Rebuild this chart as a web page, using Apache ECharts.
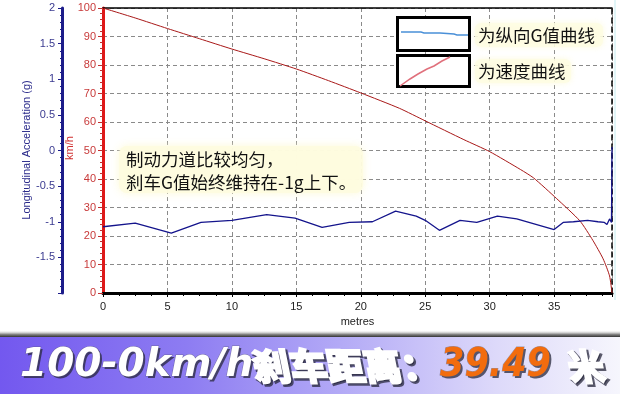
<!DOCTYPE html>
<html><head><meta charset="utf-8">
<script src="https://cdn.jsdelivr.net/npm/echarts@6/dist/echarts.min.js"></script>
<style>html,body{margin:0;padding:0;background:#fff}#c{width:620px;height:394px}</style>
</head><body><div id="c"></div>
<script>
// ---- data ----
const distanceTickLabels = ['0','5','10','15','20','25','30','35'];
const speedTickLabels = ['0','10','20','30','40','50','60','70','80','90','100'];
const gTickLabels = ['2','1.5','1','0.5','0','-0.5','-1','-1.5'];

const speedDist = [0, 2.5, 5, 7.5, 10, 12.5, 15, 17.5, 20, 23, 25, 28, 30, 32.4, 33.4, 35.2, 37, 38, 38.8, 39.3, 39.49];
const speedVals = [100, 96.5, 92.8, 89.2, 85.6, 82.2, 78.6, 74.5, 70.2, 64.8, 60.4, 53.8, 49.6, 43.3, 40.4, 33.1, 25.3, 18.5, 12, 6, 0];

const gDist = [0, 2.5, 5.3, 7.6, 10, 12.7, 14.9, 17, 19.1, 20.9, 22.7, 24.3, 25, 26.1, 27.7, 29, 30.6, 32.1, 35, 35.7, 36.5, 37.6, 38.4, 38.9, 39.1, 39.3, 39.45, 39.49];
const gVals = [-1.07, -1.02, -1.16, -1.01, -0.98, -0.90, -0.95, -1.08, -1.01, -1.0, -0.85, -0.92, -0.98, -1.12, -0.98, -1.01, -0.92, -0.96, -1.11, -1.01, -1.0, -0.98, -1.0, -1.01, -1.04, -0.96, -1.01, 0.05];

const totalDistance = 39.49;
const legendTexts = ['为纵向G值曲线', '为速度曲线'];
const noteText = ['制动力道比较均匀，', '刹车G值始终维持在-1g上下。'];
const bannerParts = ['100-0km/h', '刹车距离：', '39.49', '米'];

// ---- chart ----
const chart = echarts.init(document.getElementById('c'), null, {renderer: 'canvas'});
const gridDash = {color: '#8a8a8a', width: 1, type: [4, 3]};

function bannerText(x, text, font, fill, scaleX, skew, heavy) {
  const base = {type: 'text', y: 366, scaleX: scaleX || 1, skewX: skew || 0};
  const w = heavy || 0;
  return [
    Object.assign({}, base, {x: x + 2, y: 368, z: 31,
      style: {text: text, fill: 'rgba(40,40,60,0.75)', stroke: w ? 'rgba(40,40,60,0.75)' : null, lineWidth: w + 1, font: font, verticalAlign: 'middle'}}),
    Object.assign({}, base, {x: x, z: 32,
      style: {text: text, fill: fill, stroke: w ? fill : 'rgba(90,90,110,0.55)', lineWidth: w || 1, font: font, verticalAlign: 'middle'}})
  ];
}

const option = {
  animation: false,
  backgroundColor: '#fff',
  grid: {left: 103, right: 8, top: 8, bottom: 101, containLabel: false},
  xAxis: [{
    type: 'value', min: 0, max: totalDistance, interval: 5, position: 'bottom',
    name: 'metres', nameLocation: 'middle', nameGap: 22,
    nameTextStyle: {color: '#222', fontSize: 11, fontFamily: 'Liberation Sans'},
    axisLine: {show: true, onZero: false, lineStyle: {color: '#000', width: 3}},
    axisTick: {show: true, length: 4, lineStyle: {color: '#000'}},
    minorTick: {show: true, splitNumber: 4, length: 3, lineStyle: {color: '#000'}},
    axisLabel: {color: '#222', fontSize: 11, margin: 8, fontFamily: 'Liberation Sans',
      formatter: v => distanceTickLabels.includes(String(v)) ? String(v) : ''},
    splitLine: {show: true, lineStyle: gridDash}
  }, {
    type: 'value', min: 0, max: totalDistance, position: 'top',
    axisLine: {show: true, onZero: false, lineStyle: {color: '#000', width: 1.5}},
    axisTick: {show: false}, axisLabel: {show: false}, splitLine: {show: false}
  }],
  yAxis: [{
    type: 'value', min: 0, max: 100, interval: 10, position: 'left', offset: 0,
    axisLine: {show: true, onZero: false, lineStyle: {color: '#e01818', width: 3}},
    axisTick: {show: true, length: 5, lineStyle: {color: '#c03030'}},
    minorTick: {show: true, splitNumber: 5, length: 3, lineStyle: {color: '#c03030'}},
    axisLabel: {color: '#c83a3a', fontSize: 11, margin: 7, fontFamily: 'Liberation Sans',
      formatter: v => speedTickLabels.includes(String(v)) ? String(v) : ''},
    splitLine: {show: true, lineStyle: gridDash}
  }, {
    type: 'value', min: -2, max: 2, interval: 0.5, position: 'left', offset: 41,
    axisLine: {show: true, onZero: false, lineStyle: {color: '#1c1c8a', width: 3}},
    axisTick: {show: true, length: 4, lineStyle: {color: '#1c1c8a'}},
    minorTick: {show: true, splitNumber: 5, length: 2, lineStyle: {color: '#1c1c8a'}},
    axisLabel: {color: '#3a3a90', fontSize: 11, margin: 7, fontFamily: 'Liberation Sans',
      formatter: v => gTickLabels.includes(String(v)) ? String(v) : ''},
    splitLine: {show: false}
  }, {
    type: 'value', min: 0, max: 100, position: 'right',
    axisLine: {show: true, onZero: false, lineStyle: {color: '#000', width: 1.5, type: [5, 4]}},
    axisTick: {show: false}, axisLabel: {show: false}, splitLine: {show: false}
  }],
  series: [{
    name: 'speed', type: 'line', xAxisIndex: 0, yAxisIndex: 0,
    data: speedDist.map((d, i) => [d, speedVals[i]]),
    showSymbol: false, smooth: 0.2, lineStyle: {color: '#a81818', width: 1}, z: 3
  }, {
    name: 'g', type: 'line', xAxisIndex: 0, yAxisIndex: 1,
    data: gDist.map((d, i) => [d, gVals[i]]),
    showSymbol: false, lineStyle: {color: '#14148c', width: 1.3}, z: 4
  }],
  graphic: [
    // axis names
    {type: 'text', x: 27, y: 150, rotation: Math.PI / 2, z: 10,
      style: {text: 'Longitudinal Acceleration (g)', fill: '#2a2a8a', font: '11px "Liberation Sans"', align: 'center', verticalAlign: 'middle'}},
    {type: 'text', x: 70, y: 148, rotation: Math.PI / 2, z: 10,
      style: {text: 'km/h', fill: '#d03030', font: '11px "Liberation Sans"', align: 'center', verticalAlign: 'middle'}},
    // edge line
    {type: 'line', z: 10, shape: {x1: 615, y1: 0, x2: 615, y2: 300}, style: {stroke: '#c4ecf0', lineWidth: 1}},
    // note
    {type: 'rect', z: 20, shape: {x: 119, y: 146, width: 244, height: 47, r: 8},
      style: {fill: 'rgba(254,252,224,0.92)', shadowBlur: 8, shadowColor: 'rgba(253,250,210,1)'}},
    {type: 'text', x: 126, y: 147.5, z: 21,
      style: {text: noteText.join('\n'), fill: '#111', font: '17.5px "Noto Sans CJK SC"', lineHeight: 23, verticalAlign: 'top'}},
    // legend
    {type: 'rect', z: 20, shape: {x: 475, y: 23, width: 128, height: 24, r: 6},
      style: {fill: 'rgba(254,252,226,0.8)', shadowBlur: 6, shadowColor: 'rgba(253,250,215,1)'}},
    {type: 'rect', z: 20, shape: {x: 475, y: 59, width: 96, height: 24, r: 6},
      style: {fill: 'rgba(254,252,226,0.8)', shadowBlur: 6, shadowColor: 'rgba(253,250,215,1)'}},
    {type: 'rect', z: 21, shape: {x: 397.5, y: 17.5, width: 72, height: 33},
      style: {fill: '#fff', stroke: '#000', lineWidth: 3}},
    {type: 'polyline', z: 22, shape: {points: [[401, 32], [421, 32], [424, 33], [440, 33], [454, 34], [457, 35], [468, 35]]},
      style: {stroke: '#4a90d8', lineWidth: 1.5, fill: null}},
    {type: 'rect', z: 21, shape: {x: 397.5, y: 55.5, width: 72, height: 31},
      style: {fill: '#fff', stroke: '#000', lineWidth: 3}},
    {type: 'polyline', z: 22, shape: {points: [[400, 86], [410, 79], [418, 74], [427, 69], [434, 66], [442, 61], [450, 57]]},
      style: {stroke: '#e0707c', lineWidth: 1.5, fill: null}},
    {type: 'text', x: 478, y: 35, z: 22,
      style: {text: legendTexts[0], fill: '#111', font: '17.5px "Noto Sans CJK SC"', verticalAlign: 'middle'}},
    {type: 'text', x: 478, y: 71, z: 22,
      style: {text: legendTexts[1], fill: '#111', font: '17.5px "Noto Sans CJK SC"', verticalAlign: 'middle'}},
    // banner
    {type: 'rect', z: 30, shape: {x: 0, y: 330, width: 620, height: 7},
      style: {fill: new echarts.graphic.LinearGradient(0, 0, 0, 1, [
        {offset: 0, color: 'rgba(255,255,255,0)'}, {offset: 0.6, color: '#8a8a8a'}, {offset: 1, color: '#333'}])}},
    {type: 'rect', z: 30, shape: {x: 0, y: 337, width: 620, height: 57},
      style: {fill: new echarts.graphic.LinearGradient(0, 0, 1, 0, [
        {offset: 0, color: '#7358ef'}, {offset: 0.3, color: '#8d7cf2'}, {offset: 0.55, color: '#b3aaf6'},
        {offset: 0.8, color: '#ddd9fa'}, {offset: 1, color: '#f6f6fd'}])}}
  ].concat(
    bannerText(20, bannerParts[0], 'italic bold 39px "DejaVu Sans"', '#fff', 1, 0, 0),
    bannerText(253, bannerParts[1], 'bold 37px "Noto Sans CJK SC"', '#fff', 1, 0.2, 2.5),
    bannerText(440, bannerParts[2], 'italic bold 39px "DejaVu Sans"', '#f26c0e', 0.9, 0, 0),
    bannerText(568, bannerParts[3], 'bold 36px "Noto Sans CJK SC"', '#fff', 1, 0.2, 2.5)
  )
};
chart.setOption(option);
</script>
</body></html>
